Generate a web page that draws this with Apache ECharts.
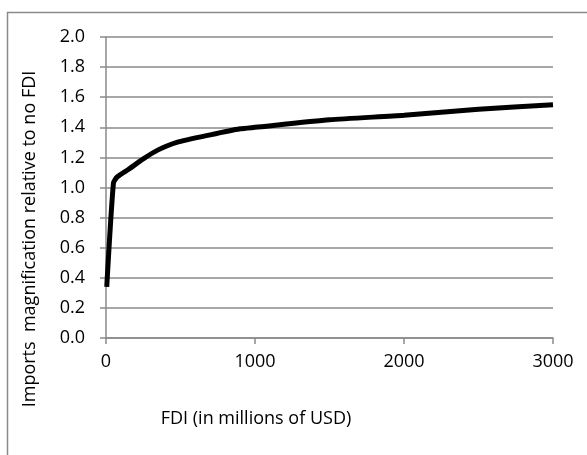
<!DOCTYPE html>
<html>
<head>
<meta charset="utf-8">
<script src="https://cdn.jsdelivr.net/npm/echarts@6/dist/echarts.min.js"></script>
<style>
  html, body { margin: 0; padding: 0; background: #fff; }
  #chart { width: 587px; height: 455px; }
</style>
</head>
<body>
<div id="chart"></div>
<script>
// FDI (millions USD) and imports magnification
var fdi = [5, 50, 75, 150, 250, 350, 475, 700, 900, 1000, 1500, 2000, 2500, 3000];
var magnification = [0.34, 1.03, 1.07, 1.12, 1.19, 1.25, 1.30, 1.35, 1.39, 1.40, 1.45, 1.48, 1.52, 1.55];
var xTitle = 'FDI (in millions of USD)';
var yTitle = 'Imports  magnification relative to no FDI';

var points = fdi.map(function (x, i) { return [x, magnification[i]]; });
var gray = '#8a8a8a';
var font = '"Open Sans", sans-serif';

var chart = echarts.init(document.getElementById('chart'));
chart.setOption({
  animation: false,
  grid: { left: 106, right: 34, top: 37, bottom: 117 },
  xAxis: {
    type: 'value',
    min: 0, max: 3000, interval: 1000,
    splitLine: { show: false },
    axisLine: { lineStyle: { color: gray, width: 1.5 } },
    axisTick: { show: true, length: 6, lineStyle: { color: gray, width: 1.5 } },
    axisLabel: {
      color: '#000', fontSize: 18, fontFamily: font, margin: 15,
      formatter: function (v) { return String(v); }
    }
  },
  yAxis: {
    type: 'value',
    min: 0, max: 2, interval: 0.2,
    splitLine: { show: true, lineStyle: { color: gray, width: 1.5 } },
    axisLine: { show: true, lineStyle: { color: gray, width: 1.5 } },
    axisTick: { show: true, length: 6, lineStyle: { color: gray, width: 1.5 } },
    axisLabel: {
      color: '#000', fontSize: 18, fontFamily: font, margin: 21,
      formatter: function (v) { return v.toFixed(1); }
    }
  },
  graphic: [
    {
      type: 'rect', left: 5, top: 10, silent: true,
      shape: { width: 700, height: 600 },
      style: { fill: 'none', stroke: gray, lineWidth: 1.5 }
    },
    {
      type: 'text', x: 256, y: 419,
      style: { text: xTitle, fill: '#000', font: '18px ' + font, align: 'center', verticalAlign: 'middle' }
    },
    {
      type: 'text', x: 30, y: 239, rotation: Math.PI / 2,
      style: { text: yTitle, fill: '#000', font: '18px ' + font, align: 'center', verticalAlign: 'middle' }
    }
  ],
  series: [{
    type: 'line',
    data: points,
    smooth: 0.2,
    showSymbol: false,
    lineStyle: { color: '#000', width: 5 }
  }]
});
</script>
</body>
</html>
